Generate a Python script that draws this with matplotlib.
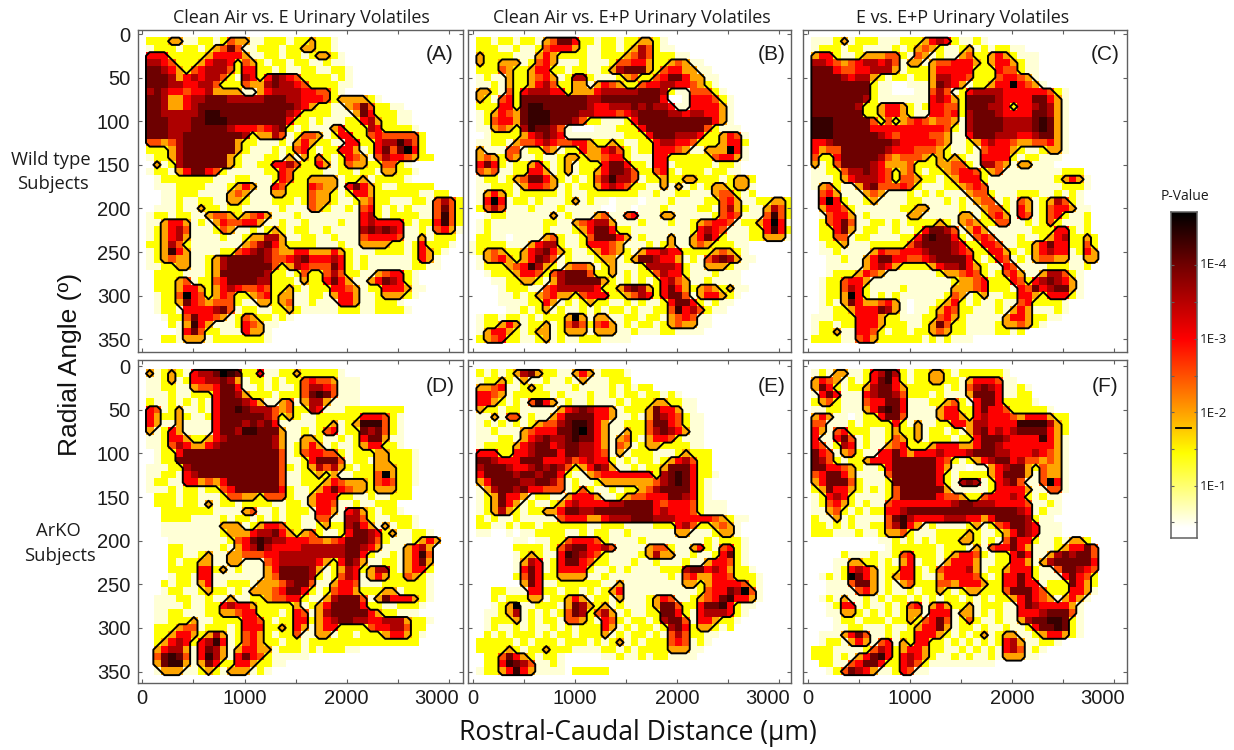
import numpy as np
import matplotlib
matplotlib.use("Agg")
import matplotlib.pyplot as plt
from matplotlib.colors import LinearSegmentedColormap
from matplotlib.transforms import ScaledTranslation

plt.rcParams['font.family'] = ['Open Sans', 'DejaVu Sans']
ARIAL = ['Liberation Sans', 'DejaVu Sans']

W, H = 1234, 750
TITLES = ["Clean Air vs. E Urinary Volatiles", "Clean Air vs. E+P Urinary Volatiles", "E vs. E+P Urinary Volatiles"]
PANEL_TAGS = ["(A)", "(B)", "(C)", "(D)", "(E)", "(F)"]
Y_TICKS = [0, 50, 100, 150, 200, 250, 300, 350]
X_TICKS = [0, 500, 1000, 1500, 2000, 2500, 3000]
X_LABELS = ["0", "", "1000", "", "2000", "", "3000"]
CB_LABELS = ["1E-4", "1E-3", "1E-2", "1E-1"]

# significance level of each cell, rows = radial angle, columns = rostral-caudal position
GRID_A = [
"",
"02223 31122 12433 11222 12232 21000",
"01222 12212 34741 12221 22332 21000",
"05552 22223 55553 11221 22123 32100",
"06654 22235 66524 32122 12211 21100",
"07765 32456 66425 52212 11221 12210",
"07776 35656 64216 52576 54222 21210",
"07776 65566 42224 33676 65422 22110",
"06765 54556 33331 13566 66554 42100",
"07763 35667 77666 66777 66555 42333 32100",
"07763 35677 77777 77777 76532 21134 74221 1",
"07766 66678 87777 77777 65222 21113 75222 11",
"07776 66778 88777 77777 52212 11122 56322 11",
"07776 66777 77655 54567 21211 13522 26522 221",
"07776 67777 77776 23364 12443 12552 24544 44420",
"04434 67777 77732 21112 13532 21155 22566 86420",
"02223 67777 77732 11121 24521 22553 12574 79520",
"01223 67777 77321 11221 31324 21254 31465 54322",
"00312 67777 77321 12255 64225 31243 32244 21",
"01221 35775 42111 11225 42222 11221 22133 22100",
"00122 22222 11122 11125 42233 33122 31222 21",
"00111 22221 11235 31154 22254 33157 53211 22222",
"00011 22211 11343 11133 22243 32125 53222 22211 22",
"00011 21122 11332 11122 21243 32112 34221 11221 4642",
"00111 21132 21221 11112 11143 21121 45212 12111 4742",
"01221 22113 44323 45311 12111 11111 56212 22211 4842",
"01135 53121 35445 53112 11211 11211 56555 52122 5842",
"01235 64111 24311 21232 12211 21111 67676 51121 4531",
"01235 63111 12112 33663 11221 12111 45555 41131 2220",
"02236 42111 11113 46753 22221 11211 33332 21252 2210",
"01238 53111 12245 67643 35533 35321 11222 21253 2100",
"01234 33112 36777 77644 56755 56521 21111 11253 1000",
"01122 33112 36777 77742 36544 47521 21111 11221 1",
"00222 21112 37777 77622 12422 46422 11345 521",
"00222 34122 45777 76622 21322 57531 13576 521",
"00222 35532 35654 45422 32122 25543 12255 53110",
"00122 49542 35422 34523 31122 13553 11233 321",
"00122 37543 44421 13323 41121 11553 11222 1",
"00122 15555 67412 21122 32111 11222 11222 21",
"00012 24755 43124 32212 1",
"00002 13853 11125 43110",
"00000 15742 21115 33100",
"00022 13331 22222 22100",
]
GRID_B = [
"",
"02212 21221 34775 22122 12233 21",
"02221 12112 45553 21122 12364 2110",
"03222 21113 53222 21122 23464 22211",
"03223 33124 53111 21112 44553 22343 11",
"02224 32235 52212 21123 67773 24553 311",
"01211 32234 53126 62111 23422 45775 3311",
"01121 32235 64223 31354 32245 56655 4321",
"03321 42566 65523 33566 66677 76211 44421",
"03214 52777 77777 76677 77777 75001 55542 1",
"02225 52788 77777 76556 66767 66511 55553 1",
"01235 43788 87777 66555 45677 77665 66553 1",
"01245 53788 87776 42211 12577 77777 77753 1",
"01134 32687 76410 00111 22257 77777 77421 11",
"00122 22356 76511 11111 12225 77766 65223 541",
"01122 13445 65445 53223 21122 56655 42223 552",
"03111 44122 43122 53356 42122 55543 11333 951",
"03432 43112 11233 23345 52111 55222 22245 531",
"05752 12235 21231 22257 75221 55122 22212 21",
"04341 12255 31231 22357 76422 45212 22122 11",
"01221 23477 53212 12468 66412 23223 32221 2332",
"01122 21355 43121 22356 54221 13131 21233 2331",
"01353 21222 22121 12222 22211 21122 11134 4212",
"01595 12212 11123 12110 11101 11211 11224 53112 2332",
"02464 11121 11211 11100 11011 12111 12214 63211 3642",
"00122 11111 13121 11341 14511 13311 11124 54111 4842",
"01211 11111 22113 45663 11121 11211 23455 41223 5951",
"01211 11111 21112 35775 22111 11111 25654 11122 5852",
"02211 01111 34211 24777 53121 11311 35752 11122 3331",
"12222 11135 66211 25554 31112 12311 34322 211",
"12343 22356 75321 12354 32135 56552 22234 321",
"01345 32357 64121 11233 12377 65531 21467 6311",
"01222 34586 32134 43123 11126 66652 11333 211",
"00122 23554 24677 74223 12122 46552 11121 11",
"00011 22332 13677 77732 12121 25643 11211 11",
"00001 22211 45666 66522 36763 25753 23432 311",
"00001 12123 45332 45552 23465 25774 13553 21",
"00001 11122 53121 23221 12121 12577 52121 1",
"00000 11212 31211 21212 21211 22485 6421 1",
"01221 22121 22239 31331 12212 21345 411",
"01223 53122 31246 42453 12122 12343 31 1",
"01355 32123 31233 31333 11211 12211 11",
"02345 22112 31211 22211 11",
]
GRID_C = [
"",
"01112 31222 11122 23565 21121",
"01222 12211 11212 34321 12312 12211",
"03552 11233 34421 43121 13422 35321 11",
"06654 34566 56413 31344 55532 35532 11",
"07775 44556 66312 22355 55522 25442 11",
"07777 65663 21221 22366 55422 24554 31",
"07777 77772 11001 11376 53122 35595 431",
"07777 77772 11000 11464 12566 66555 55542 1",
"07777 77762 11111 11565 32777 76555 57753 1",
"07777 77622 35532 12554 42777 66525 56763 1",
"07777 77722 35532 11554 52677 76555 57763 1",
"08887 77774 24234 54344 31677 77666 67873 1",
"08887 77775 55555 55554 21677 77666 67873 1",
"08887 77777 65455 55443 11577 76665 56773 1",
"05567 77777 77655 55543 11235 65543 34453 1",
"05344 77777 76555 44432 11214 55532 11233 1",
"04225 77777 64344 43232 32115 55521 22111",
"03124 77776 53334 22233 44216 64313 3111",
"01122 46676 54234 21223 45542 34111 11111 222",
"01112 35666 54244 32212 35552 11111 11112 3531",
"01342 11367 44454 21112 23454 11111 11111 2221",
"00453 11134 31112 12121 11344 21112 22112 121",
"00595 21123 11112 21112 12134 41214 31236 421",
"00355 42111 11122 33111 12113 44215 31245 5311",
"00145 53121 11113 31111 13312 45315 41245 2112",
"00245 74112 21212 22232 13432 24411 21242 1112",
"00225 73122 11211 25776 41353 11111 12225 5212",
"00224 41221 11122 57877 52145 41112 11235 62232",
"00122 31112 22224 67777 65225 54112 23575 52242",
"00112 11113 54455 56777 65422 55321 23565 51253",
"00011 21135 77554 45677 77521 25412 13443 31133",
"00011 11135 65322 22356 67532 11541 11122 2112",
"00012 22354 31111 11123 34542 12453 11366 421",
"00122 45531 11111 11111 23345 22254 25676 531",
"00122 46521 11121 11111 33345 22215 47567 731",
"00122 39521 21211 11112 43123 11225 53255 521",
"00121 37533 45310 11123 52121 12114 52222 1",
"00112 23555 76310 11235 42211 12135 31112 1",
"01112 22555 32211 12245 32111 11355 32211",
"01221 22555 32221 12374 22111 12334 321",
"01223 11554 21221 22343 22111 12212",
"02222 11453 22222 21212 111",
]
GRID_D = [
"",
"03123 21566 79872 25112 23222 221",
"01123 12556 67631 22121 22454 43111",
"01122 11344 57751 12121 12466 54111",
"01112 11222 57763 22212 22478 74111",
"02112 12121 57776 53113 41366 31111",
"05412 31121 57787 66643 42265 11122 22222 2",
"05322 32112 57777 77642 32112 22222 55542 1",
"05311 31111 57776 76751 11112 23123 88842 1",
"03125 31111 57768 87773 11212 45122 76742 1",
"01125 53223 56777 77763 11332 11212 57731 1",
"01124 65335 67777 77763 12353 12112 35522 1",
"00122 57777 77777 77774 12455 44212 22332 221",
"00122 77777 77777 77774 11257 77412 21332 221",
"01112 26777 77777 77774 21236 46321 22333 221",
"01122 15677 77777 77774 11223 23112 22493 221",
"01221 15534 35777 77774 11222 35433 32454 221",
"01112 12212 24577 77775 21123 57543 32333 22",
"00222 12211 12443 32444 21135 55221 12112 22",
"00222 12213 12212 22211 22135 54112 11222",
"00022 22222 11113 41121 22215 53156 32122 1",
"00022 22111 12122 12121 22114 41166 42112 221",
"00011 11111 13331 23554 22112 32267 53131 221",
"00011 11111 12333 56675 32342 11257 76523 11221",
"00001 11111 11245 78766 55544 34577 76421 11235 3",
"00002 21111 12135 68655 55666 66677 65311 13563",
"00002 21123 11334 44556 66666 66677 52112 13584",
"00002 12233 11331 11456 66665 32576 31122 13573",
"00002 22255 23121 11357 77763 12365 23662 13552",
"00001 22155 11111 11347 77762 12465 13532 24321",
"00021 22135 11222 13334 67741 13554 11122 22221",
"00012 21123 22121 33345 77521 24553 22233 12221",
"00111 22112 11311 22344 55211 36777 41375 55321",
"00111 12112 25655 32222 23123 57777 52211 2221",
"00112 21112 23345 52221 25413 67777 75322 111",
"00112 22311 22225 54212 25523 56776 65566 6322 1",
"00222 34412 22125 55223 25313 55222 24556 642 2",
"00223 55323 63124 53212 24113 31221 22235 5321",
"00235 65256 85124 53221 22122 22222 22222 222",
"00356 63157 63135 53312 22121 22211",
"00478 74158 63157 54211 111",
"00378 83137 52255 32211",
"00133 31123 21333 121",
]
GRID_E = [
"",
"02121 23673 22113 53122 21",
"01223 21311 21121 31112 22",
"03345 11232 11112 11112 12122",
"05543 12222 21211 12112 12212 2121",
"05532 12148 53121 12111 21222 33221 1",
"03221 22111 11356 76553 12223 75531 1",
"01131 44121 13577 77553 11213 76542 11",
"01212 12123 44678 87531 12224 77542 11",
"01121 11345 55778 97531 13224 67653 11",
"01112 21356 76678 77531 34213 55421 11",
"01222 23567 75677 66531 43123 32222 11",
"05552 25567 77577 66541 31222 11123 222",
"07765 55777 55564 56552 12122 12356 422",
"06777 65567 67642 35763 11212 23777 522",
"05777 76776 77521 13455 55555 26787 5221",
"03577 77667 76412 11233 33333 46787 521",
"01367 76755 44412 42112 12234 67777 521",
"01237 55312 21135 55311 23445 55776 521",
"01237 53121 12356 55556 67777 54555 42111",
"01236 32122 33577 66777 77777 56555 42111",
"02121 12111 11455 53356 66777 66655 55543 211",
"02211 21221 22222 21122 21111 22256 42234 31",
"01100 10112 22211 21221 12111 11133 11123 31",
"00000 01101 12245 55421 11121 11111 11212 221",
"00000 02222 12467 75564 11113 44211 35214 521",
"00000 01232 11587 65421 11123 63311 21125 721",
"00000 01365 12577 54221 11211 21112 11355 421",
"00000 01575 12555 52112 12111 12226 77565 3221",
"00000 02475 22333 31121 11111 11214 53355 42221",
"00000 00375 11222 22211 31111 11113 32355 55421",
"00022 11155 22122 12123 51111 11111 12455 76941",
"00021 22233 12235 31221 31112 35411 23457 85531",
"00012 39112 22137 63231 21112 37742 25778 5211",
"00112 36121 21247 62463 12112 27752 15666 521",
"00122 23121 22144 32154 21221 26774 15532 21",
"00121 12121 12121 22253 12122 12675 23321 2",
"00212 12221 21221 22231 21221 21464 2211",
"02222 21212 22122 21212 31212 22454 121",
"02222 32122 32221 11122 12122 22333 11",
"00224 75321 22100 00011 21121 22111 1",
"00225 87641 12100 000",
"01223 58531 11102 2222",
]
GRID_F = [
"",
"01213 31125 68621 22332 12222 221",
"03543 12125 78521 22332 21355 5411",
"03752 12236 77532 22221 21467 65112 1",
"01575 11156 77642 22121 11377 75112 2",
"02342 11145 57751 11223 42157 75222 21",
"01122 11135 78751 11135 52257 55422 2221",
"03531 10122 57741 11135 53256 55543 55532 2",
"04411 12122 22521 31122 55366 55558 88863 2",
"05314 52221 12322 31221 21367 56567 77753 2",
"05115 74121 12432 31222 12257 77655 55853 1",
"05412 65121 13452 22355 53357 76555 55553 1",
"07541 34211 55753 55565 55677 76655 56543 1",
"07642 12235 55777 77754 21235 67756 44343 1",
"07755 43211 25777 77753 11011 35677 32433 1",
"04577 53111 14777 77752 12222 35777 31433 1",
"03577 74211 12777 77752 16761 25674 11495 1",
"02375 53212 12477 77773 11111 25555 31144 1",
"01256 52111 12477 77754 43224 55565 21211",
"01245 32121 14555 55555 67766 65555 41121",
"01134 21212 25567 77777 77777 77776 51211",
"02113 12111 14786 55556 66553 57777 6211",
"02212 12112 24685 31211 11231 24577 65111",
"02221 11211 23342 11122 22321 12357 65111",
"00000 00000 11212 12122 23321 21475 52112 1332",
"00000 00000 01222 22212 22131 45575 31112 35574",
"00000 21112 11245 22212 35542 12257 51136 76774",
"00001 13322 12135 12213 55531 12255 31367 77775",
"00001 25653 12255 21245 55631 22355 52114 77654",
"00121 29753 12355 21135 55542 12557 52111 57542",
"00011 14773 12134 22244 35553 22557 55122 27532",
"00011 11453 12112 12232 12332 22477 75422 25531",
"00121 31121 21221 21212 21212 12235 75431 3531",
"00012 55121 12124 51353 22312 22115 76555 531",
"00011 33212 12123 31555 13312 12115 55677 741",
"00001 22122 21223 24574 12421 12113 67788 721",
"00001 12211 12112 35573 12212 11211 25778 721",
"00111 35741 12122 55532 12123 12331 12355 321",
"00122 13531 45132 55221 21212 12563 11221",
"02221 11124 65235 53221 12121 21564 121",
"02221 21357 85256 53211 21211 21333 11",
"00221 14577 52256 42111 11111 1",
"00012 47653 11254 11",
]
GRIDS = [GRID_A, GRID_B, GRID_C, GRID_D, GRID_E, GRID_F]

LEVEL_TO_CMAP = [0, 0.07, 0.26, 0.38, 0.50, 0.61, 0.74, 0.84, 0.92, 1.0]
CELL_X = 72.0
CELL_Y = 25 / 3
THRESH = 2.5

cmap = LinearSegmentedColormap.from_list("pval", [
    (0.0, "#ffffff"), (0.03, "#ffffff"), (0.26, "#ffff00"), (0.38, "#ffa500"),
    (0.61, "#ff0000"), (0.84, "#700000"), (1.0, "#000000")])

def to_array(rows):
    out = np.zeros((44, 46))
    for i, s in enumerate(rows):
        s = s.replace(" ", "")[:46]
        for j, ch in enumerate(s):
            out[i, j] = int(ch)
    return out

fig = plt.figure(figsize=(W / 100, H / 100), dpi=100)

COLS = [(138, 463, 142.3), (468, 791, 472.7), (803, 1127, 807.7)]
ROWS = [(30, 352, 34.0), (360, 683, 366.3)]
PX_PER_UM = 0.1022
PX_PER_DEG = 0.872
EDGE = "#606060"
TEXT = "#1c1c1c"

for k, rows in enumerate(GRIDS):
    row, col = k // 3, k % 3
    l, r, x0 = COLS[col]
    t, b, y0 = ROWS[row]
    ax = fig.add_axes([l / W, 1 - b / H, (r - l) / W, (b - t) / H])
    Z = to_array(rows)
    ny, nx = Z.shape
    xs = np.arange(nx) * CELL_X
    ys = np.arange(ny) * CELL_Y
    colors = np.interp(Z, np.arange(10), LEVEL_TO_CMAP)
    ax.imshow(colors, cmap=cmap, vmin=0, vmax=1, aspect="auto", interpolation="nearest",
              extent=[xs[0] - CELL_X / 2, xs[-1] + CELL_X / 2, ys[-1] + CELL_Y / 2, ys[0] - CELL_Y / 2])
    ax.contour(xs, ys, (Z > THRESH).astype(float), levels=[0.5], colors="k", linewidths=1.4)
    ax.set_xlim((l - x0) / PX_PER_UM, (r - x0) / PX_PER_UM)
    ax.set_ylim((b - y0) / PX_PER_DEG, (t - y0) / PX_PER_DEG)
    ax.set_xticks(X_TICKS)
    ax.set_yticks(Y_TICKS)
    ax.tick_params(direction="in", top=True, right=True, length=3, width=0.8, color=EDGE)
    ax.tick_params(axis="x", labelsize=14.5, pad=4, labelcolor=TEXT)
    ax.tick_params(axis="y", labelsize=14.5, pad=5.5, labelcolor=TEXT)
    ax.set_xticklabels(X_LABELS if row == 1 else [""] * len(X_TICKS), family=ARIAL)
    ax.set_yticklabels([str(v) for v in Y_TICKS] if col == 0 else [""] * len(Y_TICKS), family=ARIAL)
    last = ax.get_xticklabels()[-1]
    last.set_transform(last.get_transform() + ScaledTranslation(-12 / 100, 0, fig.dpi_scale_trans))
    for sp in ax.spines.values():
        sp.set_color(EDGE)
        sp.set_linewidth(1.0)
    tx = [440, 772, 1105][col]
    ty = [55, 387][row]
    fig.text(tx / W, 1 - ty / H, PANEL_TAGS[k], ha="center", va="center", fontsize=15, color=TEXT, family=ARIAL)

for label, xc in zip(TITLES, [301.5, 631.5, 963]):
    fig.text(xc / W, 1 - 18 / H, label, ha="center", va="center", fontsize=12.85, color=TEXT)

fig.text(70 / W, 1 - 364 / H, "Radial Angle (º)", rotation=90, ha="center", va="center",
         fontsize=19, color="#111111", family=ARIAL)
fig.text(637.5 / W, 1 - 733 / H, "Rostral-Caudal Distance (µm)", ha="center", va="center",
         fontsize=19.1, color="#111111")
fig.text(51 / W, 1 - 160 / H, "Wild type", ha="center", va="center", fontsize=13.2, color=TEXT)
fig.text(53 / W, 1 - 184 / H, "Subjects", ha="center", va="center", fontsize=13.2, color=TEXT)
fig.text(58 / W, 1 - 531 / H, "ArKO", ha="center", va="center", fontsize=13.2, color=TEXT)
fig.text(60 / W, 1 - 556 / H, "Subjects", ha="center", va="center", fontsize=13.2, color=TEXT)

# colour bar
cb = fig.add_axes([1171 / W, 1 - 538 / H, 26 / W, 326 / H])
cb.imshow(np.linspace(1, 0, 256)[:, None], cmap=cmap, vmin=0, vmax=1, aspect="auto", extent=[0, 1, 0, 1])
CB_MINOR = [255, 367, 478, 590, 697, 808, 918, 1028]
cb_pos = [(1075 - v) / 978 for v in CB_MINOR]
cb.set_xticks([])
cb.set_yticks(cb_pos)
cb.set_yticklabels([])
cb.tick_params(axis="y", direction="in", left=True, right=True, length=2.5, width=0.8, color=EDGE)
cb.plot([0.2, 0.78], [(1075 - 745) / 978] * 2, color="k", lw=1.3)
cb.set_xlim(0, 1)
cb.set_ylim(0, 1)
for sp in cb.spines.values():
    sp.set_color(EDGE)
    sp.set_linewidth(1.1)
fig.text(1185 / W, 1 - 197 / H, "P-Value", ha="center", va="center", fontsize=10, color=TEXT)
for lab, zy in zip(CB_LABELS, [255, 478, 700, 918]):
    fig.text(1200 / W, 1 - (180 + zy / 3) / H, lab, ha="left", va="center", fontsize=9.7, color=TEXT)

fig.savefig("out.png", dpi=100)
